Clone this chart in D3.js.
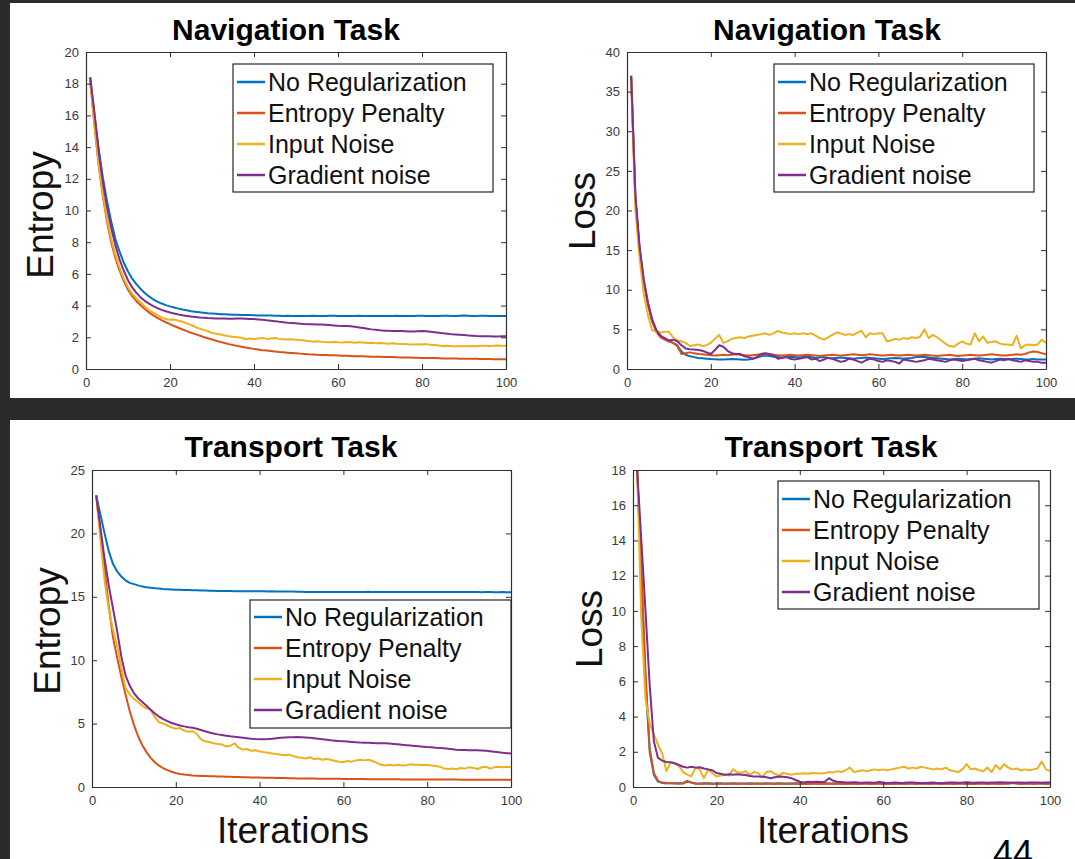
<!DOCTYPE html>
<html>
<head>
<meta charset="utf-8">
<script src="https://cdn.jsdelivr.net/npm/d3@7"></script>
<style>
  body { margin: 0; background: #2b2b2b; }
  svg { display: block; font-family: "Liberation Sans", Arial, Helvetica, sans-serif; }
</style>
</head>
<body>
<svg width="1075" height="859"></svg>
<script>
var seriesNames = ["No Regularization", "Entropy Penalty", "Input Noise", "Gradient noise"];
var colors = ["#0072BD", "#D95319", "#EDB120", "#7E2F8E"];
var xTicks = [0, 20, 40, 60, 80, 100];

// Navigation task, entropy
var navEntNoReg = [18.4,16.0,13.9,12.1,10.6,9.3,8.2,7.4,6.7,6.15,
  5.7,5.35,5.05,4.8,4.58,4.4,4.25,4.13,4.03,3.95,
  3.88,3.81,3.75,3.7,3.65,3.61,3.58,3.55,3.52,3.5,
  3.48,3.46,3.45,3.44,3.43,3.42,3.41,3.4,3.4,3.39,
  3.38,3.38,3.37,3.37,3.36,3.36,3.35,3.36,3.35,3.35,
  3.35,3.34,3.35,3.36,3.35,3.34,3.35,3.36,3.36,3.35,
  3.35,3.34,3.35,3.35,3.36,3.35,3.34,3.34,3.35,3.35,
  3.34,3.35,3.35,3.36,3.35,3.34,3.35,3.35,3.36,3.36,
  3.35,3.35,3.34,3.35,3.36,3.36,3.35,3.35,3.36,3.37,
  3.36,3.35,3.35,3.36,3.36,3.35,3.34,3.35,3.35,3.35];
var navEntPenalty = [18.2,15.4,12.9,10.9,9.3,8.0,7.0,6.2,5.55,5.0,
  4.6,4.28,4.02,3.78,3.57,3.38,3.22,3.08,2.95,2.83,
  2.71,2.6,2.49,2.39,2.29,2.2,2.11,2.02,1.94,1.86,
  1.78,1.71,1.64,1.57,1.51,1.46,1.41,1.36,1.31,1.27,
  1.23,1.19,1.16,1.13,1.1,1.07,1.05,1.03,1.01,0.99,
  0.97,0.95,0.93,0.92,0.9,0.89,0.88,0.87,0.86,0.85,
  0.84,0.83,0.82,0.81,0.8,0.8,0.79,0.78,0.77,0.77,
  0.76,0.75,0.75,0.74,0.73,0.73,0.72,0.71,0.71,0.7,
  0.7,0.69,0.69,0.68,0.67,0.67,0.66,0.66,0.65,0.65,
  0.64,0.64,0.64,0.63,0.63,0.63,0.62,0.62,0.62,0.62];
var navEntInput = [18.2,15.5,13.0,11.0,9.5,8.2,7.2,6.4,5.7,5.15,
  4.75,4.45,4.2,3.95,3.72,3.55,3.4,3.26,3.16,3.1,
  3.12,3.05,2.98,2.88,2.78,2.65,2.55,2.47,2.38,2.28,
  2.22,2.17,2.12,2.07,2.03,2.01,1.97,1.88,1.92,1.9,
  1.92,1.95,1.9,1.93,1.96,1.9,1.88,1.86,1.87,1.85,
  1.83,1.8,1.76,1.72,1.75,1.72,1.7,1.69,1.7,1.68,
  1.67,1.7,1.68,1.66,1.69,1.67,1.64,1.65,1.63,1.64,
  1.62,1.6,1.62,1.59,1.57,1.58,1.55,1.54,1.56,1.55,
  1.57,1.53,1.52,1.48,1.45,1.47,1.44,1.43,1.44,1.43,
  1.44,1.45,1.43,1.46,1.47,1.45,1.46,1.48,1.47,1.46];
var navEntGrad = [18.4,16.2,13.8,11.8,10.2,8.9,7.8,6.9,6.2,5.6,
  5.15,4.8,4.52,4.3,4.12,3.97,3.84,3.73,3.64,3.57,
  3.5,3.44,3.39,3.35,3.31,3.28,3.25,3.23,3.21,3.2,
  3.19,3.18,3.18,3.17,3.17,3.18,3.18,3.17,3.16,3.15,
  3.13,3.1,3.07,3.05,3.02,2.98,2.95,2.92,2.9,2.88,
  2.86,2.84,2.83,2.82,2.8,2.8,2.79,2.77,2.75,2.73,
  2.72,2.71,2.69,2.66,2.62,2.58,2.54,2.5,2.47,2.44,
  2.42,2.41,2.4,2.39,2.39,2.38,2.37,2.37,2.38,2.39,
  2.38,2.35,2.32,2.29,2.26,2.23,2.2,2.18,2.16,2.14,
  2.12,2.1,2.08,2.07,2.06,2.06,2.05,2.05,2.06,2.06];

// Navigation task, loss
var navLossNoReg = [37,21.5,15,11,8.2,6.1,4.8,4.1,3.8,3.5,
  3.3,3.0,2.2,1.8,1.6,1.5,1.4,1.35,1.3,1.25,
  1.22,1.2,1.2,1.22,1.25,1.22,1.2,1.18,1.2,1.3,
  1.45,1.6,1.7,1.65,1.55,1.5,1.45,1.5,1.55,1.5,
  1.45,1.5,1.55,1.5,1.4,1.45,1.5,1.4,1.35,1.4,
  1.45,1.4,1.35,1.3,1.35,1.4,1.45,1.4,1.35,1.3,
  1.25,1.3,1.35,1.4,1.35,1.3,1.35,1.4,1.5,1.55,
  1.5,1.45,1.4,1.35,1.3,1.25,1.2,1.25,1.3,1.25,
  1.2,1.25,1.3,1.35,1.3,1.25,1.2,1.25,1.3,1.25,
  1.2,1.25,1.3,1.25,1.2,1.2,1.25,1.2,1.2,1.2];
var navLossPenalty = [36.8,21.5,15.2,11,8.1,6.0,4.7,4.0,3.7,3.5,
  3.3,2.9,1.9,2.0,2.1,2.0,1.9,1.85,1.8,1.75,
  1.7,1.75,1.8,1.75,1.8,1.85,1.8,1.75,1.7,1.75,
  1.8,1.85,1.9,1.85,1.8,1.75,1.7,1.75,1.8,1.75,
  1.7,1.75,1.8,1.75,1.7,1.65,1.7,1.75,1.8,1.75,
  1.7,1.75,1.8,1.85,1.8,1.75,1.8,1.85,1.8,1.75,
  1.7,1.75,1.8,1.75,1.7,1.75,1.8,1.75,1.7,1.75,
  1.8,1.75,1.7,1.65,1.7,1.75,1.8,1.7,1.65,1.7,
  1.75,1.8,1.75,1.7,1.75,1.8,1.85,1.8,1.75,1.7,
  1.75,1.8,1.85,1.8,1.9,2.1,2.2,2.15,2.0,1.85];
var navLossInput = [36.5,20,14,9.5,6.8,4.9,4.7,4.6,4.7,4.7,
  4.0,3.6,3.5,3.3,2.9,3.0,3.1,2.9,3.0,3.3,
  3.8,4.3,3.3,3.5,3.8,3.9,4.0,3.9,4.1,4.2,
  4.3,4.4,4.5,4.3,4.5,4.8,4.6,4.5,4.4,4.5,
  4.4,4.5,4.4,4.5,4.2,3.9,3.7,4.0,4.3,4.6,
  4.5,4.3,4.4,4.3,4.6,4.8,4.0,4.5,4.4,4.5,
  4.5,3.5,3.6,3.8,3.7,3.9,3.8,4.0,3.9,4.1,
  5.0,3.9,4.3,4.0,3.6,3.2,2.9,2.8,3.2,3.5,
  3.2,3.1,4.5,3.5,4.1,3.3,3.4,3.5,3.2,3.1,
  3.1,3.0,4.2,2.6,3.0,3.1,3.0,3.1,3.7,3.3];
var navLossGrad = [37,22,15.5,11.3,8.4,6.3,4.9,4.2,3.9,3.6,
  3.7,3.5,3.0,2.6,2.5,2.45,2.4,2.3,2.1,1.9,
  2.4,3.0,2.8,2.3,2.0,1.9,1.9,1.6,1.5,1.3,
  1.5,1.9,2.0,1.9,1.7,1.3,1.4,1.5,1.3,1.2,
  1.3,1.4,1.5,1.2,1.3,1.0,1.2,1.4,1.3,1.1,
  0.9,1.0,1.3,1.2,1.0,0.8,1.1,1.3,1.2,1.0,
  0.9,1.1,1.0,0.9,0.7,1.2,1.1,1.0,0.9,1.0,
  1.1,1.3,1.2,1.1,1.0,0.9,1.1,1.2,1.1,1.0,
  1.1,1.2,1.3,1.1,1.0,0.9,0.8,1.0,1.2,1.1,
  1.3,1.1,1.0,0.9,1.1,1.0,0.9,0.9,0.8,0.8];

// Transport task, entropy
var trEntNoReg = [23.0,21.5,20.0,18.6,17.6,17.0,16.6,16.3,16.1,16.0,
  15.9,15.82,15.76,15.72,15.68,15.65,15.62,15.6,15.58,15.56,
  15.55,15.54,15.53,15.52,15.51,15.5,15.49,15.48,15.47,15.46,
  15.46,15.45,15.45,15.44,15.44,15.44,15.43,15.43,15.43,15.43,
  15.43,15.42,15.43,15.42,15.42,15.41,15.42,15.41,15.4,15.39,
  15.38,15.38,15.37,15.37,15.38,15.38,15.37,15.38,15.38,15.38,
  15.38,15.37,15.38,15.38,15.38,15.39,15.38,15.38,15.37,15.38,
  15.38,15.38,15.37,15.38,15.38,15.38,15.37,15.37,15.38,15.38,
  15.38,15.37,15.37,15.37,15.38,15.38,15.37,15.37,15.37,15.37,
  15.37,15.37,15.36,15.37,15.37,15.36,15.36,15.37,15.36,15.36];
var trEntPenalty = [23.0,20.0,17.2,14.3,11.8,10.2,8.7,7.3,6.0,4.9,
  4.0,3.3,2.75,2.3,1.95,1.68,1.48,1.33,1.2,1.1,
  1.03,0.98,0.94,0.91,0.89,0.87,0.86,0.85,0.84,0.83,
  0.82,0.81,0.8,0.79,0.78,0.77,0.76,0.75,0.74,0.74,
  0.73,0.72,0.72,0.71,0.7,0.7,0.69,0.69,0.68,0.68,
  0.67,0.67,0.67,0.66,0.66,0.66,0.65,0.65,0.65,0.64,
  0.64,0.64,0.63,0.63,0.63,0.62,0.62,0.62,0.62,0.61,
  0.61,0.61,0.61,0.6,0.6,0.6,0.6,0.6,0.6,0.6,
  0.59,0.59,0.59,0.59,0.59,0.59,0.59,0.58,0.58,0.58,
  0.58,0.58,0.58,0.58,0.58,0.58,0.58,0.58,0.58,0.58];
var trEntInput = [23.0,19.5,16.3,14.0,12.4,11.1,9.4,7.8,7.3,6.95,
  6.7,6.4,6.2,6.1,5.5,5.1,5.0,4.85,4.7,4.6,
  4.65,4.45,4.35,4.4,4.2,3.75,3.6,3.55,3.45,3.4,
  3.35,3.2,3.25,3.45,3.1,2.95,3.0,2.85,2.9,2.8,
  2.75,2.7,2.65,2.6,2.55,2.5,2.55,2.45,2.35,2.3,
  2.25,2.35,2.2,2.25,2.15,2.2,2.15,2.05,2.0,1.97,
  2.05,2.0,2.1,2.15,2.1,2.15,2.05,1.9,1.75,1.7,
  1.75,1.7,1.75,1.7,1.72,1.8,1.75,1.75,1.73,1.75,
  1.7,1.65,1.6,1.45,1.42,1.45,1.4,1.5,1.45,1.55,
  1.5,1.42,1.55,1.6,1.45,1.55,1.6,1.55,1.6,1.55];
var trEntGrad = [23.0,20.5,18.0,15.9,14.1,12.3,10.3,8.8,8.0,7.4,
  7.0,6.7,6.4,6.1,5.8,5.55,5.35,5.2,5.05,4.95,
  4.85,4.78,4.72,4.68,4.6,4.5,4.4,4.3,4.22,4.15,
  4.1,4.05,4.0,3.96,3.92,3.88,3.84,3.8,3.78,3.77,
  3.77,3.78,3.8,3.84,3.88,3.9,3.92,3.93,3.94,3.93,
  3.91,3.88,3.84,3.8,3.76,3.72,3.68,3.65,3.62,3.6,
  3.58,3.55,3.52,3.5,3.49,3.48,3.47,3.46,3.46,3.45,
  3.43,3.4,3.37,3.33,3.3,3.27,3.24,3.21,3.18,3.15,
  3.13,3.1,3.08,3.05,3.02,2.98,2.94,2.92,2.91,2.9,
  2.9,2.89,2.88,2.85,2.82,2.78,2.74,2.7,2.67,2.65];

// Transport task, loss
var trLossNoReg = [18,12,6,2,0.7,0.3,0.25,0.23,0.22,0.22,
  0.21,0.22,0.35,0.25,0.2,0.2,0.21,0.22,0.2,0.2,
  0.21,0.2,0.2,0.21,0.2,0.2,0.2,0.21,0.2,0.2,
  0.2,0.21,0.2,0.2,0.21,0.2,0.2,0.2,0.21,0.2,
  0.2,0.21,0.2,0.2,0.2,0.21,0.2,0.2,0.21,0.2,
  0.2,0.21,0.2,0.2,0.21,0.22,0.2,0.2,0.21,0.22,
  0.22,0.21,0.2,0.2,0.21,0.22,0.21,0.2,0.21,0.22,
  0.22,0.21,0.22,0.22,0.21,0.2,0.21,0.22,0.22,0.21,
  0.22,0.22,0.21,0.22,0.22,0.21,0.22,0.22,0.23,0.22,
  0.22,0.23,0.22,0.22,0.23,0.22,0.22,0.23,0.22,0.22];
var trLossPenalty = [18,12.5,6.5,2.2,0.8,0.35,0.22,0.2,0.22,0.2,
  0.18,0.2,0.3,0.25,0.18,0.17,0.18,0.18,0.17,0.18,
  0.18,0.17,0.18,0.18,0.17,0.18,0.18,0.17,0.18,0.18,
  0.17,0.18,0.18,0.17,0.18,0.18,0.17,0.18,0.18,0.17,
  0.18,0.17,0.18,0.18,0.17,0.18,0.18,0.17,0.18,0.18,
  0.17,0.18,0.18,0.17,0.18,0.18,0.17,0.18,0.18,0.17,
  0.18,0.17,0.18,0.18,0.17,0.18,0.18,0.17,0.18,0.18,
  0.17,0.18,0.18,0.17,0.18,0.18,0.17,0.18,0.18,0.17,
  0.18,0.17,0.18,0.18,0.17,0.18,0.18,0.17,0.18,0.18,
  0.25,0.18,0.17,0.18,0.18,0.17,0.18,0.18,0.17,0.18];
var trLossInput = [18,9.5,5.0,3.6,3.0,2.4,1.9,0.9,1.4,1.35,
  1.2,0.85,0.7,0.6,1.1,1.0,0.5,1.0,0.8,0.6,
  0.65,0.7,0.65,1.0,0.85,0.8,0.9,0.7,0.85,0.8,
  0.55,0.85,0.9,0.75,0.65,0.8,0.75,0.7,0.75,0.75,
  0.78,0.75,0.8,0.78,0.76,0.8,0.85,0.82,0.9,0.85,
  0.95,1.1,0.85,0.9,0.95,0.9,0.95,1.0,0.95,1.0,
  0.95,1.0,1.05,1.1,1.15,1.05,1.1,1.05,1.15,1.1,
  1.05,1.0,1.05,1.0,1.1,0.95,0.9,0.85,1.0,1.3,
  1.0,1.05,0.95,0.9,1.1,0.85,1.25,1.0,1.3,1.1,
  1.0,1.05,0.95,1.0,0.95,1.0,1.05,1.45,1.0,0.9];
var trLossGrad = [18,14,10,5.8,2.6,1.65,1.5,1.42,1.4,1.35,
  1.25,1.15,1.1,1.15,1.1,1.12,1.05,1.0,0.95,0.8,
  0.75,0.7,0.72,0.7,0.72,0.7,0.68,0.62,0.6,0.6,
  0.58,0.55,0.5,0.55,0.6,0.58,0.55,0.5,0.4,0.3,
  0.25,0.3,0.28,0.3,0.28,0.3,0.5,0.35,0.3,0.28,
  0.26,0.25,0.27,0.25,0.24,0.26,0.25,0.24,0.28,0.25,
  0.22,0.24,0.25,0.23,0.24,0.26,0.25,0.24,0.22,0.23,
  0.24,0.25,0.23,0.22,0.24,0.25,0.26,0.24,0.25,0.27,
  0.25,0.24,0.26,0.25,0.24,0.26,0.25,0.27,0.26,0.25,
  0.24,0.26,0.25,0.24,0.25,0.26,0.25,0.24,0.25,0.25];

var svg = d3.select("svg");

// slide background and the two white strips
svg.append("rect").attr("width", 1075).attr("height", 859).attr("fill", "#2b2b2b");
svg.append("rect").attr("x", 10).attr("y", 3).attr("width", 1065).attr("height", 395).attr("fill", "#fff");
svg.append("rect").attr("x", 10).attr("y", 420).attr("width", 1065).attr("height", 439).attr("fill", "#fff");

var panels = [
  { id: "tl", x0: 86, x1: 506, y0: 52, y1: 369, yMax: 20, yTicks: d3.range(0, 21, 2),
    title: "Navigation Task", titleX: 286, titleY: 40,
    yLabel: "Entropy", yLabelX: 53, yLabelY: 215,
    legend: { x: 233, y: 64, w: 260, h: 128, first: 18, step: 31 },
    data: [navEntNoReg, navEntPenalty, navEntInput, navEntGrad] },
  { id: "tr", x0: 627, x1: 1046, y0: 52, y1: 369, yMax: 40, yTicks: d3.range(0, 41, 5),
    title: "Navigation Task", titleX: 827, titleY: 40,
    yLabel: "Loss", yLabelX: 595, yLabelY: 211,
    legend: { x: 774, y: 64, w: 260, h: 128, first: 18, step: 31 },
    data: [navLossNoReg, navLossPenalty, navLossInput, navLossGrad] },
  { id: "bl", x0: 92, x1: 511, y0: 470, y1: 787, yMax: 25, yTicks: d3.range(0, 26, 5),
    title: "Transport Task", titleX: 291, titleY: 457,
    yLabel: "Entropy", yLabelX: 60, yLabelY: 631, xLabel: "Iterations", xLabelX: 293,
    legend: { x: 250, y: 600, w: 261, h: 128, first: 17, step: 31 },
    data: [trEntNoReg, trEntPenalty, trEntInput, trEntGrad] },
  { id: "br", x0: 633, x1: 1050, y0: 470, y1: 787, yMax: 18, yTicks: d3.range(0, 19, 2),
    title: "Transport Task", titleX: 831, titleY: 457,
    yLabel: "Loss", yLabelX: 602, yLabelY: 629, xLabel: "Iterations", xLabelX: 833,
    legend: { x: 778, y: 481, w: 261, h: 128, first: 18, step: 31 },
    data: [trLossNoReg, trLossPenalty, trLossInput, trLossGrad] }
];

panels.forEach(drawPanel);

function drawPanel(p) {
  var x = d3.scaleLinear().domain([0, 100]).range([p.x0, p.x1]);
  var y = d3.scaleLinear().domain([0, p.yMax]).range([p.y1, p.y0]);
  var g = svg.append("g");

  g.append("clipPath").attr("id", "clip-" + p.id)
    .append("rect").attr("x", p.x0).attr("y", p.y0 - 1)
    .attr("width", p.x1 - p.x0).attr("height", p.y1 - p.y0 + 2);

  var line = d3.line()
    .x(function(d, i) { return x(i + 1); })
    .y(function(d) { return y(d); });

  g.append("g").attr("clip-path", "url(#clip-" + p.id + ")")
    .selectAll("path")
    .data(p.data)
    .enter().append("path")
    .attr("d", line)
    .attr("fill", "none")
    .attr("stroke", function(d, i) { return colors[i]; })
    .attr("stroke-width", 2)
    .attr("stroke-linejoin", "round");

  // box with inward ticks on all four sides
  var ax = g.append("g");

  ax.append("g").attr("transform", "translate(0," + p.y1 + ")")
    .call(d3.axisBottom(x).tickValues(xTicks).tickSizeInner(-5).tickSizeOuter(0).tickPadding(9));
  ax.append("g").attr("transform", "translate(0," + p.y0 + ")")
    .call(d3.axisTop(x).tickValues(xTicks).tickSizeInner(-5).tickSizeOuter(0).tickFormat(""));
  ax.append("g").attr("transform", "translate(" + p.x0 + ",0)")
    .call(d3.axisLeft(y).tickValues(p.yTicks).tickSizeInner(-5).tickSizeOuter(0).tickPadding(7));
  ax.append("g").attr("transform", "translate(" + p.x1 + ",0)")
    .call(d3.axisRight(y).tickValues(p.yTicks).tickSizeInner(-5).tickSizeOuter(0).tickFormat(""));

  ax.selectAll(".domain").attr("stroke", "#303030").attr("stroke-width", 1.2);
  ax.selectAll(".tick line").attr("stroke", "#303030");
  ax.selectAll(".tick text")
    .attr("fill", "#3a3a3a")
    .attr("font-size", 13)
    .attr("font-family", "'Liberation Sans', Arial, sans-serif");

  g.append("text")
    .attr("x", p.titleX).attr("y", p.titleY)
    .attr("text-anchor", "middle")
    .attr("font-size", 30).attr("font-weight", "bold").attr("fill", "#000")
    .text(p.title);

  g.append("text")
    .attr("transform", "translate(" + p.yLabelX + "," + p.yLabelY + ") rotate(-90)")
    .attr("text-anchor", "middle")
    .attr("font-size", 37).attr("fill", "#111")
    .text(p.yLabel);

  if (p.xLabel) {
    g.append("text")
      .attr("x", p.xLabelX).attr("y", 843)
      .attr("text-anchor", "middle")
      .attr("font-size", 37).attr("fill", "#111")
      .text(p.xLabel);
  }

  var L = p.legend;
  var lg = g.append("g").attr("transform", "translate(" + L.x + "," + L.y + ")");
  lg.append("rect")
    .attr("width", L.w).attr("height", L.h)
    .attr("fill", "#fff").attr("stroke", "#262626").attr("stroke-width", 1.2);
  var row = lg.selectAll("g.row")
    .data(seriesNames)
    .enter().append("g").attr("class", "row")
    .attr("transform", function(d, i) { return "translate(0," + (L.first + i * L.step) + ")"; });
  row.append("line")
    .attr("x1", 4).attr("x2", 32)
    .attr("stroke", function(d, i) { return colors[i]; })
    .attr("stroke-width", 2.5);
  row.append("text")
    .attr("x", 35).attr("dy", "0.35em")
    .attr("font-size", 25).attr("fill", "#111")
    .text(function(d) { return d; });
}

// slide number, partly below the bottom edge as in the slide
svg.append("text")
  .attr("x", 993).attr("y", 866)
  .attr("font-size", 36).attr("fill", "#000")
  .text("44");
</script>
</body>
</html>
